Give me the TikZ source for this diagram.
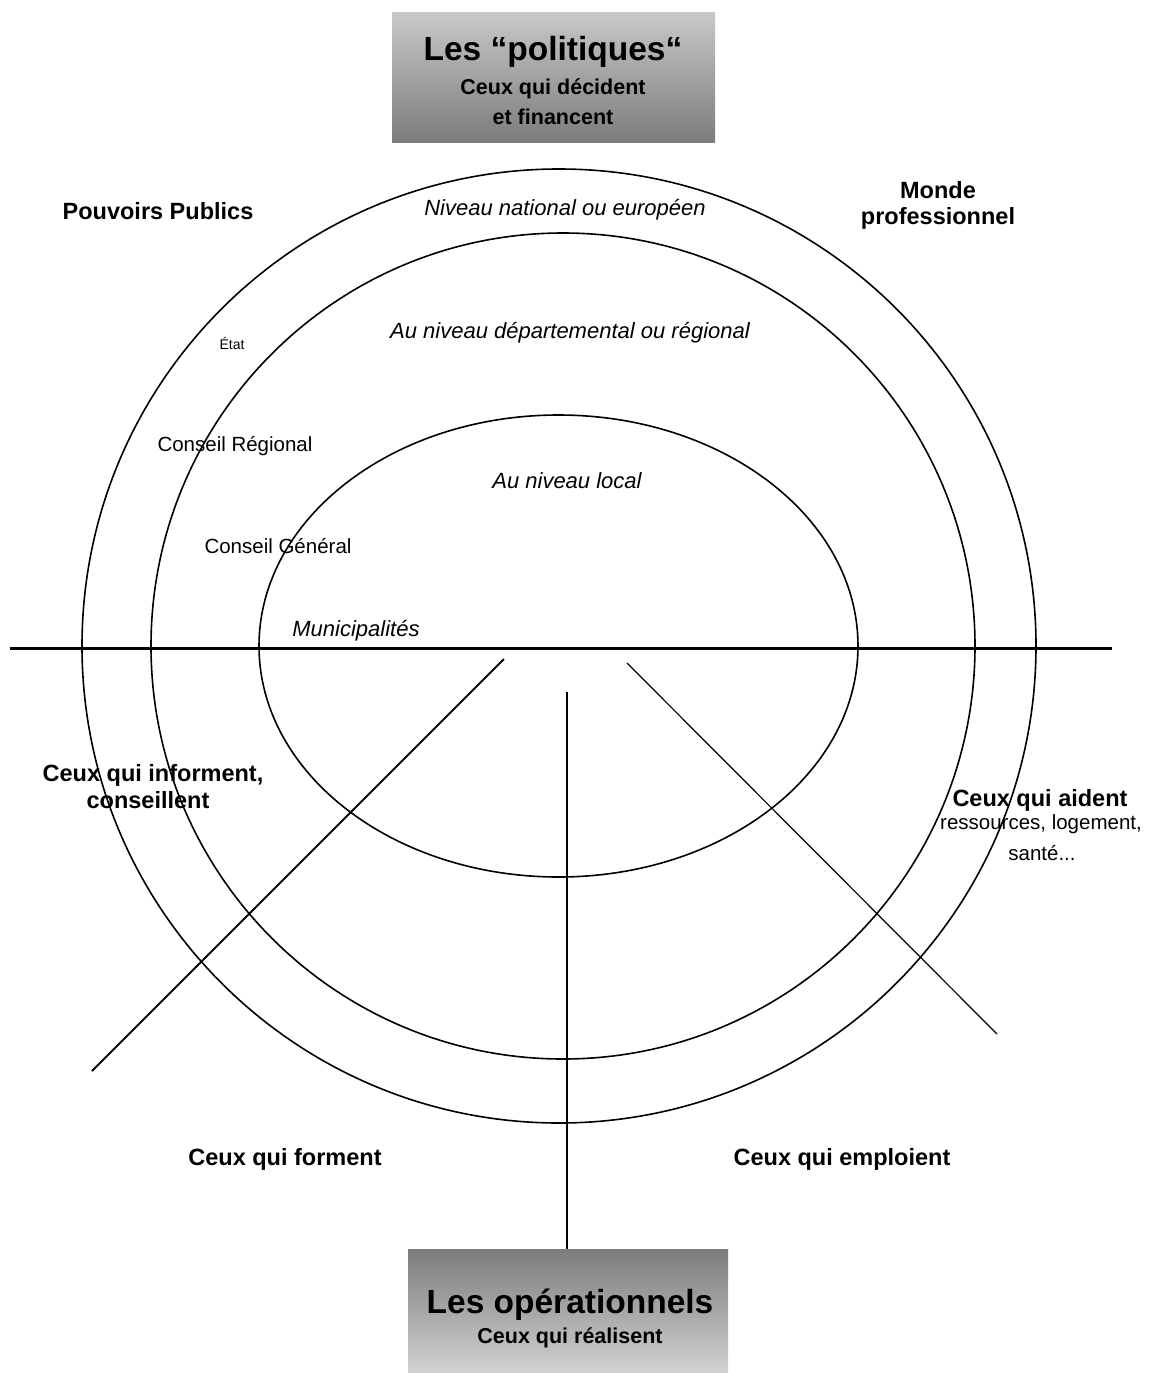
\documentclass[tikz,border=0pt]{standalone}
\usepackage{fontspec}
\setmainfont{Liberation Sans}
\definecolor{boxlight}{HTML}{C8C8C8}
\definecolor{boxmid}{HTML}{909090}
\definecolor{boxdark}{HTML}{7C7C7C}
\definecolor{boxpale}{HTML}{D2D2D2}
\begin{document}
\begin{tikzpicture}[x=1pt,y=-1pt,
  lab/.style={font=\bfseries\fontsize{23.5}{27}\selectfont, anchor=base, inner sep=0pt},
  title/.style={font=\bfseries\fontsize{33.5}{38}\selectfont, anchor=base, inner sep=0pt},
  sub/.style={font=\bfseries\fontsize{21.5}{25}\selectfont, anchor=base, inner sep=0pt},
  lvl/.style={font=\itshape\fontsize{22}{26}\selectfont, anchor=base, inner sep=0pt},
  inst/.style={font=\fontsize{20.5}{24}\selectfont, anchor=base, inner sep=0pt},
  ring/.style={line width=1.6pt},
  box/.style={inner sep=0pt, draw=none}
]
\useasboundingbox (0,0) rectangle (1161,1373);

% boxes
\node[box, minimum width=323pt, minimum height=130pt, top color=boxlight, middle color=boxmid, bottom color=boxdark] (pol) at (553.5,77) {};
\node[box, minimum width=320pt, minimum height=124pt, top color=boxdark, middle color=boxmid, bottom color=boxpale] (ops) at (568,1311) {};

% rings
\coordinate (c1) at (559,646);
\coordinate (c2) at (563,646);
\coordinate (c3) at (558.5,646);
\draw[ring] (c1) circle [radius=477];
\draw[ring] (c2) ellipse [x radius=412, y radius=413];
\draw[ring] (c3) ellipse [x radius=299.5, y radius=231];

% lines
\coordinate (hl) at (10,648);
\coordinate (hr) at (1112,648);
\draw[line width=3pt] (hl) -- (hr);
\coordinate (d1a) at (504,659);
\coordinate (d1b) at (92,1071);
\draw[line width=2pt] (d1a) -- (d1b);
\coordinate (vtop) at (567,692);
\draw[line width=2pt] (vtop) -- (vtop |- ops.north);
\coordinate (d2a) at (627,663);
\coordinate (d2b) at (997,1034);
\draw[line width=1.2pt] (d2a) -- (d2b);

% box texts
\node[title] (t1) at (553,60) {Les “politiques“};
\node[sub] (t2) at (553,94) {Ceux qui décident};
\node[sub] (t3) at (553,124) {et financent};
\node[title] (t4) at (570,1313) {Les opérationnels};
\node[sub] (t5) at (570,1343) {Ceux qui réalisent};

% bold labels
\node[lab] (pp) at (158,219) {Pouvoirs Publics};
\node[lab] (mp1) at (938,198) {Monde};
\node[lab] (mp2) at (938,224) {professionnel};
\node[lab] (inf1) at (153,781) {Ceux qui informent,};
\node[lab] (inf2) at (148,808) {conseillent};
\node[lab] (aid1) at (1040,806) {Ceux qui aident};
\node[inst] (aid2) at (1041,829) {ressources, logement,};
\node[inst] (aid3) at (1042,860) {santé...};
\node[lab] (frm) at (285,1165) {Ceux qui forment};
\node[lab] (emp) at (842,1165) {Ceux qui emploient};

% levels
\node[lvl] (n1) at (565,215) {Niveau national ou européen};
\node[lvl] (n2) at (570,338) {Au niveau départemental ou régional};
\node[lvl] (n3) at (567,488) {Au niveau local};
\node[lvl] (n4) at (356,636) {Municipalités};

% institutions
\node[inst, font=\fontsize{14}{16}\selectfont] (etat) at (232,349) {État};
\node[inst] (cr) at (235,451) {Conseil Régional};
\node[inst] (cg) at (278,553) {Conseil Général};
\end{tikzpicture}
\end{document}
